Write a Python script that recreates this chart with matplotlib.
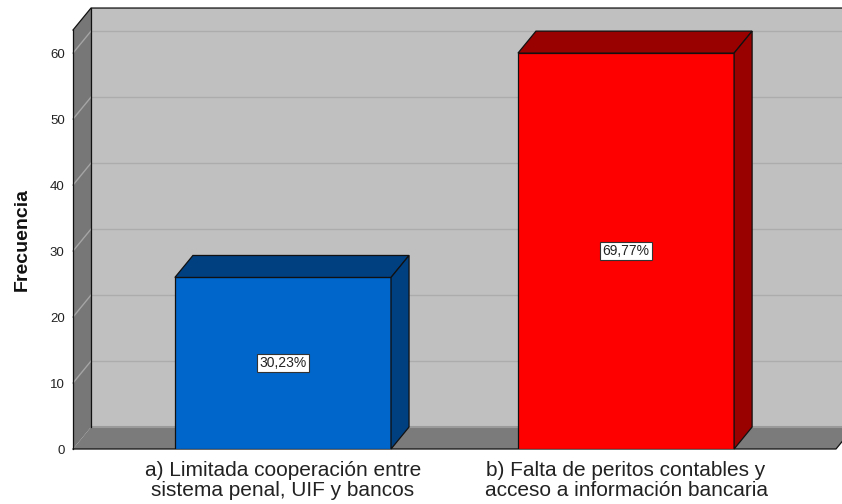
import numpy as np
import matplotlib
matplotlib.use('Agg')
from matplotlib import pyplot as plt
from matplotlib.patches import Polygon

# data
categorias = ['a) Limitada cooperación entre\nsistema penal, UIF y bancos',
              'b) Falta de peritos contables y\nacceso a información bancaria']
frecuencias = [26, 60]
porcentajes = ['30,23%', '69,77%']
yticks = [0, 10, 20, 30, 40, 50, 60]

colores_frente = ['#0066cc', '#ff0000']
colores_lado = ['#003f80', '#990000']

plt.rcParams['font.family'] = ['Liberation Sans', 'DejaVu Sans']

fig = plt.figure(figsize=(8.42, 5.04), dpi=100)
ax = fig.add_axes([73 / 842, 55 / 504, 763 / 842, 419 / 504])

xlo, xhi = -0.612, 1.612
ymax = 63.5
dx, dy = 0.0525, 3.33   # profundidad 3D
ancho = 0.63

ax.set_xlim(xlo, xhi)
ax.set_ylim(0, ymax)
for s in ax.spines.values():
    s.set_visible(False)
ax.patch.set_visible(False)

def poly(pts, fc, ec='none', lw=0.8, z=1):
    p = Polygon(pts, closed=True, facecolor=fc, edgecolor=ec, linewidth=lw,
                clip_on=False, zorder=z)
    ax.add_patch(p)

# pared del fondo
poly([(xlo + dx, dy), (xhi + 2 * dx, dy), (xhi + 2 * dx, ymax + dy), (xlo + dx, ymax + dy)],
     '#c0c0c0', z=0.5)
for v in yticks[1:]:
    ax.plot([xlo + dx, xhi + 2 * dx], [v + dy, v + dy], color='#acacac', lw=1,
            clip_on=False, zorder=0.6)
# piso
poly([(xlo, 0), (xhi, 0), (xhi + dx, dy), (xlo + dx, dy)], '#7b7b7b', z=0.7)
ax.plot([xlo + dx, xhi + 2 * dx], [dy, dy], color='#9a9a9a', lw=1.5, clip_on=False, zorder=0.75)
# pared izquierda
poly([(xlo, 0), (xlo, ymax), (xlo + dx, ymax + dy), (xlo + dx, dy)], '#777777', z=0.8)
for v in yticks[1:]:
    ax.plot([xlo, xlo + dx], [v, v + dy], color='#a5a5a5', lw=1, clip_on=False, zorder=0.85)

# bordes negros del marco
k = dict(color='#111111', lw=0.9, clip_on=False, zorder=0.9)
ax.plot([xlo, xlo], [0, ymax], **k)
ax.plot([xlo, xlo + dx, xhi + 2 * dx], [ymax, ymax + dy, ymax + dy], **k)
ax.plot([xlo + dx, xlo + dx], [dy, ymax + dy], **k)
ax.plot([xlo, xhi, xhi + dx], [0, 0, dy], **k)

# barras
x = np.arange(len(categorias))
ax.bar(x, frecuencias, width=ancho, color=colores_frente, edgecolor='#111111',
       linewidth=0.9, zorder=3)
for xi, v, c in zip(x, frecuencias, colores_lado):
    l, r = xi - ancho / 2, xi + ancho / 2
    poly([(l, v), (r, v), (r + dx, v + dy), (l + dx, v + dy)], c, '#111111', 0.9, 3)
    poly([(r, 0), (r + dx, dy), (r + dx, v + dy), (r, v)], c, '#111111', 0.9, 3)

for xi, v, t in zip(x, frecuencias, porcentajes):
    ax.text(xi, v / 2, t, ha='center', va='center', fontsize=10, color='#222222',
            zorder=5, bbox=dict(boxstyle='square,pad=0.15', fc='white', ec='#333333', lw=0.8))

ax.set_yticks(yticks)
ax.set_yticklabels([str(v) for v in yticks], fontsize=9.5, color='#222222')
ax.set_xticks(x)
ax.set_xticklabels(categorias, fontsize=15, color='#222222', linespacing=1.0)
ax.tick_params(length=0, axis='y', pad=6)
ax.tick_params(length=0, axis='x', pad=9)
ax.set_ylabel('Frecuencia', fontsize=14, fontweight='bold', color='#111111', labelpad=14)

fig.savefig('out.png', dpi=100, facecolor='white')
